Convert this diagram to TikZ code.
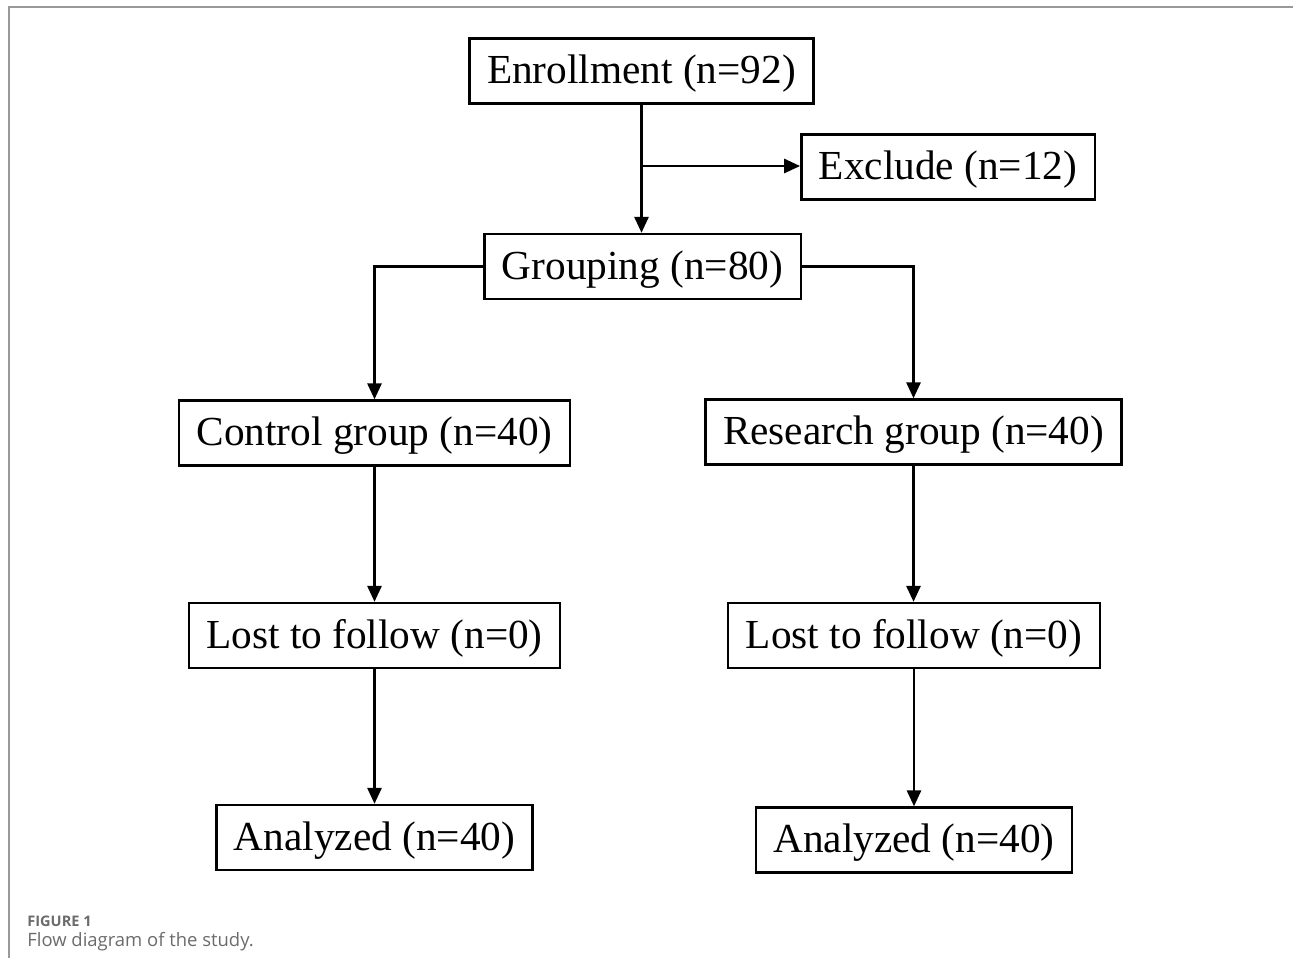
\documentclass[tikz,border=0pt]{standalone}
\usepackage{fontspec}
\setmainfont{Liberation Serif}
\newfontfamily\capfont{Open Sans}
\usetikzlibrary{arrows.meta}
\definecolor{capgray}{HTML}{6B6B6B}
\tikzset{
  box/.style={draw, line width=1.4pt, inner xsep=10pt, minimum height=37pt,
              text height=18pt, text depth=3.3pt,
              font=\fontsize{23.5}{28}\selectfont},
  flow/.style={-{Triangle[length=9pt,width=8pt]}, line width=1.3pt},
}
\begin{document}
\begin{tikzpicture}[x=0.02cm, y=-0.02cm]
  \useasboundingbox (0,0) rectangle (1293,958);
  \draw[gray!80, line width=1pt] (1293,7) -- (9,7) -- (9,958);

  \node[box] (enrol)    at (641.5,71)  {Enrollment (n=92)};
  \node[box] (exclude)  at (948,167)   {Exclude (n=12)};
  \node[box] (group)    at (642.5,266.5) {Grouping (n=80)};
  \node[box] (control)  at (374.5,433) {Control group (n=40)};
  \node[box] (research) at (913.5,432) {Research group (n=40)};
  \node[box] (lostc)    at (374.5,635.5) {Lost to follow (n=0)};
  \node[box] (lostr)    at (914,635.5) {Lost to follow (n=0)};
  \node[box] (anac)     at (374.5,837.5) {Analyzed (n=40)};
  \node[box] (anar)     at (914,840)   {Analyzed (n=40)};
  \coordinate (fork) at (642,166);

  \draw[flow] (enrol.south) -- (enrol.south |- group.north);
  \draw[flow] (fork) -- (fork -| exclude.west);
  \draw[flow] (group.west) -| (control.north);
  \draw[flow] (group.east) -| (research.north);
  \draw[flow] (control) -- (lostc);
  \draw[flow] (lostc) -- (anac);
  \draw[flow] (research.south) -- (research.south |- lostr.north);
  \draw[flow] (lostr) -- (anar);

  % caption
  \node[anchor=west, inner sep=0pt, text=capgray, font=\capfont\bfseries\fontsize{8.3}{10}\selectfont]
    (figno) at (27,921) {FIGURE 1};
  \node[anchor=west, inner sep=0pt, text=capgray, font=\capfont\fontsize{10.5}{12}\selectfont]
    (figcap) at (27,942) {Flow diagram of the study.};
\end{tikzpicture}
\end{document}
